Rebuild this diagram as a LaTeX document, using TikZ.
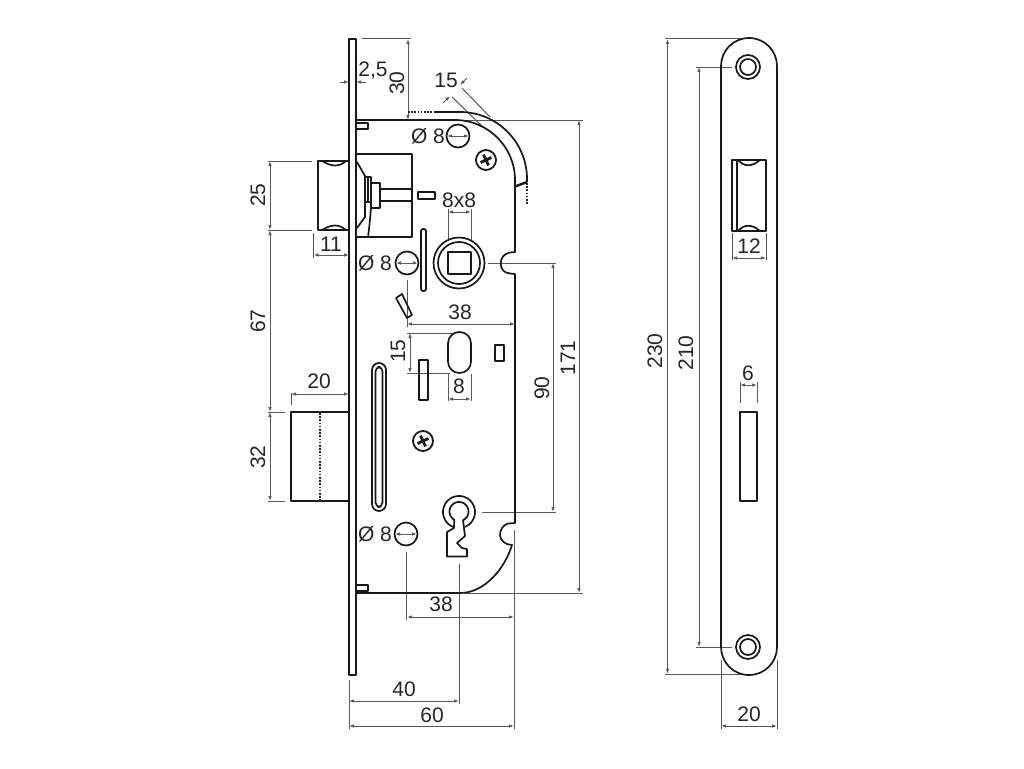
\documentclass[tikz,border=0pt]{standalone}
\usepackage{fontspec}
\setmainfont{Liberation Sans}
\usetikzlibrary{arrows.meta}
\tikzset{
  part/.style={draw=black!90,line width=1.7pt,line join=round},
  heavy/.style={draw=black!90,line width=2.4pt,line join=round},
  dotline/.style={draw=black!85,line width=1.6pt,dash pattern=on 1.6pt off 1.6pt},
  ext/.style={draw=black!65,line width=1pt},
  dimen/.style={draw=black!65,line width=1pt,{Latex[length=5pt,width=3.6pt]}-{Latex[length=5pt,width=3.6pt]}},
  dimone/.style={draw=black!65,line width=1pt,-{Latex[length=5pt,width=3.6pt]}},
  lab/.style={inner sep=0pt,font=\fontsize{21}{22}\selectfont,text=black!85},
  labv/.style={lab,rotate=90},
}
\newcommand{\screwcross}[2]{%
  \draw[line width=2.8pt,black!90,rotate around={25:(#1,#2)}] (#1-6,#2)--(#1+6,#2) (#1,#2-6)--(#1,#2+6);}
\begin{document}
\begin{tikzpicture}[x=1pt,y=-1pt]
\useasboundingbox[fill=white] (0,0) rectangle (1024,768);

%% ---------- dimension lines (under the parts)
\draw[ext] (356,120)--(583,120) (465,593)--(583,593);
\draw[dimen] (579,120)--(579,593);
\draw[ext] (488,263)--(556,263) (482,512)--(556,512);
\draw[dimen] (553,263)--(553,512);
\draw[ext] (362,39)--(411,39);
\draw[dimen] (408,39)--(408,120);
\draw[dimone] (340,82)--(349,82);
\draw[dimone] (366,82)--(356,82);
\draw[ext] (452,97)--(482,126) (462,88)--(490,117);
\draw[dimone] (443,103)--(450,96);
\draw[dimone] (467,78)--(460,85);
\draw[ext] (268,161)--(312,161) (268,230)--(312,230) (268,412)--(285,412) (268,501)--(285,501);
\draw[dimen] (270,161)--(270,230);
\draw[dimen] (270,230)--(270,412);
\draw[dimen] (270,412)--(270,501);
\draw[ext] (313.5,233)--(313.5,258);
\draw[dimen] (313.5,255)--(349,255);
\draw[ext] (291,393)--(291,405);
\draw[dimen] (291,394)--(349,394);
\draw[ext] (407,280)--(407,327);
\draw[dimen] (407,324)--(515,324);
\draw[ext] (407,333)--(453,333) (407,373)--(450,373);
\draw[dimen] (410,333)--(410,373);
\draw[ext] (448,374)--(448,401) (471,374)--(471,401);
\draw[dimen] (448,399)--(471,399);
\draw[ext] (448,209)--(448,240) (471,209)--(471,240);
\draw[dimen] (448,212)--(471,212);
\draw[ext] (406,552)--(406,620) (514,530)--(514,729) (459,564)--(459,704) (349,680)--(349,729);
\draw[dimen] (407,617)--(514,617);
\draw[dimen] (349,701)--(459,701);
\draw[dimen] (349,726)--(514,726);
\draw[ext] (665,39)--(745,39) (665,674)--(745,674) (696,67)--(732,67) (696,647)--(732,647);
\draw[dimen] (667.5,39)--(667.5,674);
\draw[dimen] (699,67)--(699,647);
\draw[ext] (732,233)--(732,260) (766,233)--(766,260) (740,382)--(740,403) (757,382)--(757,403) (721,660)--(721,729) (777,660)--(777,729);
\draw[dimen] (732,258)--(766,258);
\draw[dimen] (740,385)--(757,385);
\draw[dimen] (721,726)--(777,726);

%% ---------- faceplate and case
\draw[part] (349,39) rectangle (355.7,675);
\draw[part] (355.7,120)--(455,120) .. controls (488,120) and (515,147) .. (515,180)--(515,252)
  --(510,252.5) .. controls (504,253.5) and (500.7,258) .. (500.7,263.5)
  .. controls (500.7,269) and (504,273) .. (510,273.5)--(515,274)--(515,523)
  --(508,523.5) .. controls (503,525) and (500,530) .. (500,535)
  .. controls (500,540) and (505,545) .. (512,545)
  .. controls (505,568) and (485,593) .. (460,593)--(355.7,593);
\draw[part] (356,123) rectangle (368,129);
\draw[part] (356,585) rectangle (368,591);
\draw[heavy] (356,592)--(368,592);
%% latch outer path
\draw[dotline] (408,112)--(435,112);
\draw[part] (435,112)--(460,112) .. controls (497,112) and (527,142) .. (527,179)--(527,182);
\draw[heavy] (515,186.5)--(527,182);
\draw[dotline] (527,183)--(527,205);

%% ---------- latch and cylinder box
\draw[part] (349,161)--(318,161)--(318,230)--(349,230);
\draw[part] (322,161) .. controls (332,167) and (339,167) .. (346,161);
\draw[part] (322,230) .. controls (332,224) and (339,224) .. (346,230);
\draw[part] (356,154)--(412,154)--(412,237)--(356,237);
\draw[part] (357,162)--(365,176)--(365,217)--(357,228);
\draw[part,fill=white] (365,177) rectangle (371,202);
\draw[heavy] (368,177)--(368,202);
\draw[part,fill=white] (371,183) rectangle (380,208);
\draw[part] (380,189)--(412,189) (380,201)--(412,201);
\draw[part] (371,208) .. controls (370,220) and (369,230) .. (368,237);
\draw[part] (418,192) rectangle (435,199);
\draw[part,rounded corners=2pt] (421,229) rectangle (426,291);

%% ---------- spindle
\draw[part] (459,263) circle[radius=25.5];
\draw[part] (459,263) circle[radius=21];
\draw[part] (448,252) rectangle (471,274);

%% ---------- fixing holes
\draw[part] (458,136) circle[radius=11.5];
\draw[part] (407,263) circle[radius=11.5];
\draw[part] (406,534) circle[radius=11.5];
\draw[dimen] (447,136)--(469,136);
\draw[dimen] (396,263)--(418,263);
\draw[dimen] (395,534)--(417,534);

%% ---------- screws
\draw[part,line width=1.8pt] (486,160) circle[radius=10];
\screwcross{486}{160}
\draw[part,line width=1.8pt] (423,441) circle[radius=10];
\screwcross{423}{441}

%% ---------- small cut-outs
\draw[part] (396,298)--(402,294)--(412,315)--(407,318)--cycle;
\draw[part,rounded corners=11.4pt] (448,332) rectangle (471,373);
\draw[part] (495,345) rectangle (504,361);
\draw[part] (419,360) rectangle (428,400);
\draw[part,rounded corners=7pt] (372,363) rectangle (386,511);
\draw[part,rounded corners=4.5pt] (375.5,367) rectangle (382.5,507);

%% ---------- bolt
\draw[part] (349,412)--(291,412)--(291,501)--(349,501);
\draw[heavy] (291,501)--(349,501);
\draw[dotline] (320,413)--(320,500);

%% ---------- keyhole
\draw[part] plot[domain=112:428,samples=50] ({459+16*cos(\x)},{512+16*sin(\x)});
\draw[part] plot[domain=120:425,samples=50] ({459+9.5*cos(\x)},{511.5+9.5*sin(\x)})
  --(465,536)--(457,543)--(462,548)--(467,549)--(467,556.5)--(447,556.5)--(447,532)--(454,528)--cycle;

%% ---------- strike plate
\draw[part] (721,66) .. controls (721,51) and (733,38) .. (749,38)
  .. controls (765,38) and (777,51) .. (777,66)--(777,647)
  .. controls (777,662) and (765,675) .. (749,675)
  .. controls (733,675) and (721,662) .. (721,647)--cycle;
\foreach \cy in {67,647}{
  \draw[part] (748,\cy) circle[radius=12];
  \draw[part] (748,\cy) circle[radius=8];
}
\draw[part] (732,160) rectangle (766,231);
\draw[part] (737,160)--(737,231);
\draw[part] (738,160) .. controls (744,167) and (752,167) .. (760,160);
\draw[part] (738,231) .. controls (744,224) and (752,224) .. (760,231);
\draw[part] (740,412) rectangle (757,501);

%% ---------- labels
\node[labv] (l25) at (258,195) {25};
\node[lab] (l11) at (331,244) {11};
\node[labv] (l67) at (258,321) {67};
\node[lab] (l20a) at (319,381) {20};
\node[labv] (l32) at (258,457) {32};
\node[lab] (l25b) at (373,71) {2,5};
\node[labv] (l30) at (397,83) {30};
\node[lab] (l15a) at (446,80) {15};
\node[lab] (ld1) at (428,136) {Ø 8};
\node[lab] (ld2) at (375,263) {Ø 8};
\node[lab] (ld3) at (375,534) {Ø 8};
\node[lab] (l8x8) at (459,200) {8x8};
\node[lab] (l38a) at (460,312) {38};
\node[labv] (l15b) at (398,351) {15};
\node[lab] (l8) at (459,386) {8};
\node[labv] (l90) at (542,388) {90};
\node[labv] (l171) at (568,358) {171};
\node[lab] (l38b) at (441,604) {38};
\node[lab] (l40) at (404,689) {40};
\node[lab] (l60) at (432,715) {60};
\node[labv] (l230) at (655,351) {230};
\node[labv] (l210) at (686,353) {210};
\node[lab] (l12) at (749,246) {12};
\node[lab] (l6) at (748,373) {6};
\node[lab] (l20b) at (749,714) {20};
\end{tikzpicture}
\end{document}
